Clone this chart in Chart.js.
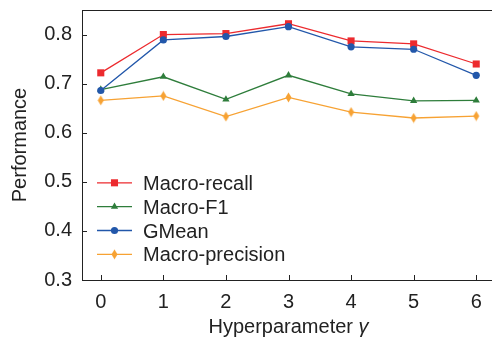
<!DOCTYPE html>
<html>
<head>
<meta charset="utf-8">
<script src="https://cdn.jsdelivr.net/npm/chart.js@4/dist/chart.umd.min.js"></script>
<style>
  html, body { margin: 0; padding: 0; background: #fff; overflow: hidden; }
  #wrap { width: 500px; height: 338px; position: relative; }
</style>
</head>
<body>
<div id="wrap"><canvas id="chart"></canvas></div>
<script>
// data
const xValues = [0, 1, 2, 3, 4, 5, 6];
const macroRecall = [0.722, 0.800, 0.802, 0.822, 0.787, 0.781, 0.740];
const macroF1 = [0.688, 0.714, 0.668, 0.717, 0.679, 0.665, 0.666];
const gMean = [0.686, 0.789, 0.796, 0.816, 0.775, 0.770, 0.717];
const macroPrecision = [0.666, 0.675, 0.633, 0.672, 0.642, 0.630, 0.634];
const seriesNames = ["Macro-recall", "Macro-F1", "GMean", "Macro-precision"];
const xTicks = [0, 1, 2, 3, 4, 5, 6];
const yTicks = [0.3, 0.4, 0.5, 0.6, 0.7, 0.8];

const FONT = "'Liberation Sans', Arial, Helvetica, sans-serif";
const TEXT = "#222";

// tall thin diamond marker
const diamond = document.createElement("canvas");
diamond.width = 7;
diamond.height = 11;
(function () {
  const c = diamond.getContext("2d");
  c.fillStyle = "#f7a233";
  c.beginPath();
  c.moveTo(3.5, 0.5);
  c.lineTo(6.5, 5.5);
  c.lineTo(3.5, 10.5);
  c.lineTo(0.5, 5.5);
  c.closePath();
  c.fill();
})();

const toPoints = (ys) => ys.map((y, i) => ({ x: xValues[i], y: y }));

const series = [
  { data: macroRecall, color: "#ec2a2e", style: "rect", radius: 5, order: 1 },
  { data: macroF1, color: "#2e7d3b", style: "triangle", radius: 4.2, order: 2 },
  { data: gMean, color: "#2257aa", style: "circle", radius: 3.6, order: 0 },
  { data: macroPrecision, color: "#f7a233", style: diamond, radius: 5, order: 3 },
];

function drawMarker(ctx, style, r, x, y, color) {
  ctx.save();
  ctx.fillStyle = color;
  if (style instanceof HTMLCanvasElement) {
    ctx.drawImage(style, x - style.width / 2, y - style.height / 2);
  } else if (style === "rect") {
    const s = Math.SQRT1_2 * r;
    ctx.fillRect(x - s, y - s, 2 * s, 2 * s);
  } else if (style === "triangle") {
    ctx.beginPath();
    for (let k = 0; k < 3; k++) {
      const a = k * 2 * Math.PI / 3;
      const px = x + Math.sin(a) * r, py = y - Math.cos(a) * r;
      if (k === 0) ctx.moveTo(px, py); else ctx.lineTo(px, py);
    }
    ctx.closePath();
    ctx.fill();
  } else {
    ctx.beginPath();
    ctx.arc(x, y, r, 0, Math.PI * 2);
    ctx.fill();
  }
  ctx.restore();
}

// frame, inward ticks, axis titles and legend
const decorations = {
  id: "decorations",
  afterDraw(chart) {
    const ctx = chart.ctx;
    const a = chart.chartArea;
    const xs = chart.scales.x, ys = chart.scales.y;
    ctx.save();
    ctx.strokeStyle = TEXT;
    ctx.lineWidth = 1;
    ctx.beginPath();
    ctx.moveTo(a.left, a.top + 0.5);
    ctx.lineTo(a.right, a.top + 0.5);
    ctx.moveTo(a.right - 0.5, a.top);
    ctx.lineTo(a.right - 0.5, a.bottom);
    xTicks.forEach(v => {
      const px = Math.round(xs.getPixelForValue(v)) + 0.5;
      ctx.moveTo(px, a.bottom);
      ctx.lineTo(px, a.bottom - 5);
    });
    yTicks.forEach(v => {
      const py = Math.round(ys.getPixelForValue(v)) + 0.5;
      ctx.moveTo(a.left, py);
      ctx.lineTo(a.left + 5, py);
    });
    ctx.stroke();

    // x title with italic gamma
    ctx.fillStyle = TEXT;
    ctx.textBaseline = "alphabetic";
    ctx.textAlign = "left";
    const f1 = "20px " + FONT, f2 = "italic 20px " + FONT;
    const t1 = "Hyperparameter ", t2 = "γ";
    ctx.font = f1;
    const w1 = ctx.measureText(t1).width;
    ctx.font = f2;
    const w2 = ctx.measureText(t2).width;
    const cx = (a.left + a.right) / 2;
    let sx = cx - (w1 + w2) / 2;
    ctx.font = f1;
    ctx.fillText(t1, sx, 333);
    ctx.font = f2;
    ctx.fillText(t2, sx + w1, 333);

    // y title
    ctx.save();
    ctx.translate(20, (a.top + a.bottom) / 2);
    ctx.rotate(-Math.PI / 2);
    ctx.font = f1;
    ctx.textAlign = "center";
    ctx.textBaseline = "middle";
    ctx.fillText("Performance", 0, 0);
    ctx.restore();

    // legend
    chart.data.datasets.forEach((ds, i) => {
      const y = 182.8 + i * 23.85;
      ctx.strokeStyle = ds.borderColor;
      ctx.lineWidth = 1.3;
      ctx.beginPath();
      ctx.moveTo(97, y);
      ctx.lineTo(132, y);
      ctx.stroke();
      drawMarker(ctx, ds.pointStyle, ds.pointRadius, 114.5, y, ds.borderColor);
      ctx.fillStyle = TEXT;
      ctx.font = f1;
      ctx.textAlign = "left";
      ctx.textBaseline = "alphabetic";
      ctx.fillText(ds.label, 143, y + 7);
    });
    ctx.restore();
  }
};

new Chart(document.getElementById("chart"), {
  type: "line",
  data: {
    datasets: series.map((s, i) => ({
      label: seriesNames[i],
      data: toPoints(s.data),
      borderColor: s.color,
      backgroundColor: s.color,
      borderWidth: 1.3,
      pointStyle: s.style,
      pointRadius: s.radius,
      pointBorderWidth: 0,
      pointBackgroundColor: s.color,
      order: s.order,
      tension: 0,
    })),
  },
  options: {
    responsive: true,
    maintainAspectRatio: false,
    animation: false,
    events: [],
    layout: { padding: { top: 10, right: 2, left: 0, bottom: 0 } },
    plugins: { legend: { display: false }, tooltip: { enabled: false } },
    scales: {
      x: {
        type: "linear",
        min: -0.3,
        max: 6.3,
        afterBuildTicks: (scale) => { scale.ticks = xTicks.map(v => ({ value: v })); },
        afterFit: (scale) => {
          scale.height = 58;
          scale.paddingLeft = 0;
          scale.paddingRight = 0;
        },
        grid: { display: true, drawOnChartArea: false, drawTicks: false },
        border: { display: true, color: TEXT, width: 1 },
        ticks: {
          padding: 10,
          color: TEXT,
          font: { family: FONT, size: 20 },
          maxRotation: 0,
          callback: (v) => String(v),
        },
      },
      y: {
        type: "linear",
        min: 0.3,
        max: 0.85,
        afterBuildTicks: (scale) => { scale.ticks = yTicks.map(v => ({ value: v })); },
        afterFit: (scale) => {
          scale.width = 82;
          scale.paddingTop = 0;
          scale.paddingBottom = 0;
        },
        grid: { display: true, drawOnChartArea: false, drawTicks: false },
        border: { display: true, color: TEXT, width: 1 },
        ticks: {
          padding: 10,
          color: TEXT,
          font: { family: FONT, size: 20 },
          callback: (v) => v.toFixed(1),
        },
      },
    },
  },
  plugins: [decorations],
});
</script>
</body>
</html>
